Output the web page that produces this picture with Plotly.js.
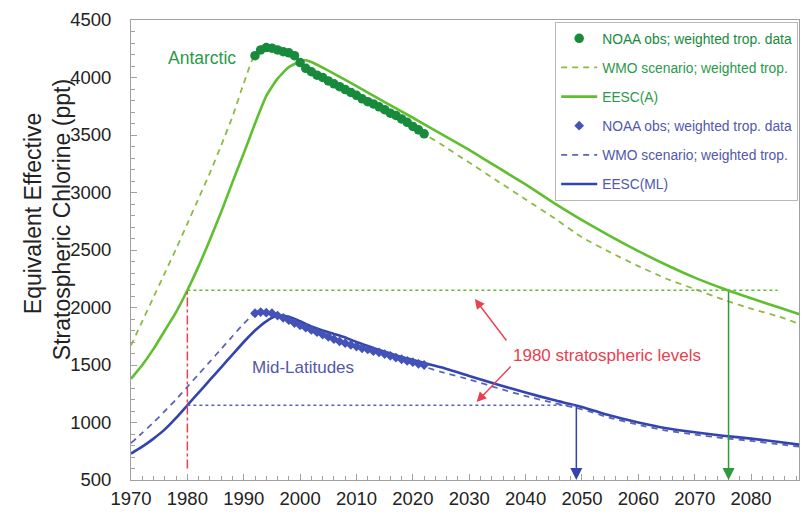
<!DOCTYPE html>
<html>
<head>
<meta charset="utf-8">
<script src="https://cdn.plot.ly/plotly-3.0.1.min.js"></script>
<style>html,body{margin:0;padding:0;background:#fff;}#chart{width:802px;height:516px;}</style>
</head>
<body>
<div id="chart"></div>
<script>
// ---------- data ----------
const eescA_years = [1970,1972,1974,1976,1978,1980,1982,1984,1986,1988,1990,1992,1994,1996,1998,2000,2001,2002,2005,2010,2015,2020,2025,2030,2035,2040,2045,2050,2055,2060,2065,2070,2075,2080,2085,2089];
const eescA_vals  = [1380,1500,1640,1800,1960,2150,2360,2590,2830,3090,3340,3600,3840,3990,4090,4140,4150,4135,4060,3925,3785,3650,3510,3370,3220,3070,2910,2760,2620,2490,2370,2260,2165,2080,2000,1935];

const wmoA_years = [1970,1972,1974,1976,1978,1980,1982,1984,1986,1988,1990,1992,1994,1996,1998,2000,2002,2004,2006,2008,2010,2012,2014,2016,2018,2020,2022,2025,2030,2035,2040,2045,2050,2055,2060,2065,2070,2075,2080,2085,2089];
const wmoA_vals  = [1670,1880,2090,2300,2510,2730,2950,3170,3410,3660,3950,4200,4250,4240,4210,4140,4060,4010,3950,3900,3850,3790,3740,3690,3640,3580,3510,3420,3260,3100,2940,2780,2610,2480,2360,2250,2160,2070,1990,1920,1850];

const obsA_years = [1992,1993,1994,1995,1996,1997,1998,1999,2000,2001,2002,2003,2004,2005,2006,2007,2008,2009,2010,2011,2012,2013,2014,2015,2016,2017,2018,2019,2020,2021,2022];
const obsA_vals  = [4190,4240,4260,4255,4240,4225,4215,4190,4130,4080,4050,4020,4000,3970,3945,3920,3895,3870,3845,3815,3790,3770,3745,3720,3690,3670,3640,3610,3575,3545,3510];

const eescML_years = [1970,1972,1974,1976,1978,1980,1982,1984,1986,1988,1990,1992,1994,1996,1998,2000,2002,2004,2006,2008,2010,2012,2014,2016,2018,2020,2025,2030,2035,2040,2045,2050,2055,2060,2065,2070,2075,2080,2085,2089];
const eescML_vals  = [730,790,860,940,1040,1150,1260,1370,1480,1590,1700,1800,1880,1930,1920,1880,1835,1800,1770,1740,1700,1665,1630,1600,1570,1545,1480,1405,1330,1260,1195,1135,1060,1000,950,915,885,860,830,805];

const wmoML_years = [1970,1972,1974,1976,1978,1980,1982,1984,1986,1988,1990,1992,1994,1996,1998,2000,2002,2004,2006,2008,2010,2012,2014,2016,2018,2020,2022,2025,2030,2035,2040,2045,2050,2055,2060,2065,2070,2075,2080,2085,2089];
const wmoML_vals  = [820,910,1000,1100,1200,1310,1420,1530,1640,1750,1860,1950,1960,1930,1890,1840,1800,1760,1720,1690,1660,1630,1600,1570,1540,1510,1485,1440,1375,1300,1230,1170,1115,1040,980,930,895,865,840,810,787];

const obsML_years = [1992,1993,1994,1995,1996,1997,1998,1999,2000,2001,2002,2003,2004,2005,2006,2007,2008,2009,2010,2011,2012,2013,2014,2015,2016,2017,2018,2019,2020,2021,2022];
const obsML_vals  = [1950,1960,1955,1950,1930,1910,1890,1865,1845,1825,1805,1785,1765,1745,1725,1705,1690,1675,1660,1645,1635,1620,1610,1595,1580,1565,1550,1535,1525,1510,1500];

// 1980 reference levels and return years
const refYear = 1980;
const level1980_A = 2150;
const level1980_ML = 1150;
const returnYear_A = 2076;
const returnYear_ML = 2049;
const levelLineEnd_A = 2084.7;
const levelLineEnd_ML = 2049;

const xTickVals = [1970,1980,1990,2000,2010,2020,2030,2040,2050,2060,2070,2080];
const yTickVals = [500,1000,1500,2000,2500,3000,3500,4000,4500];
const yTitleLines = ['Equivalent Effective', 'Stratospheric Chlorine (ppt)'];

const names = {
  obs: 'NOAA obs; weighted trop. data',
  wmo: 'WMO scenario; weighted trop.',
  eescA: 'EESC(A)',
  eescML: 'EESC(ML)'
};

// ---------- styles ----------
const C = {
  greenSolid: '#5fbf2f', greenDash: '#8cba45', greenObs: '#178a3c', greenText: '#2a9a4a',
  blueSolid: '#3343b0', blueDash: '#5c64b4', blueObs: '#4453b8', blueText: '#5258ab',
  red: '#e8404f', axis: '#a0a0a0'
};
const FONT = '"Liberation Sans", Arial, sans-serif';
const span = (c, t) => '<span style="color:' + c + '">' + t + '</span>';

const traces = [
  {x: wmoA_years, y: wmoA_vals, mode: 'lines', name: span(C.greenText, names.wmo), legendgroup: 'g2', legendrank: 2,
   line: {color: C.greenDash, width: 1.8, dash: '6px,5px', shape: 'spline', smoothing: 0.5}},
  {x: eescA_years, y: eescA_vals, mode: 'lines', name: span(C.greenText, names.eescA), legendgroup: 'g3', legendrank: 3,
   line: {color: C.greenSolid, width: 2.6, shape: 'spline', smoothing: 0.5}},
  {x: obsA_years, y: obsA_vals, mode: 'markers', name: span(C.greenObs, names.obs), legendgroup: 'g1', legendrank: 1,
   marker: {color: C.greenObs, size: 9.5, symbol: 'circle'}},
  {x: wmoML_years, y: wmoML_vals, mode: 'lines', name: span(C.blueText, names.wmo), legendgroup: 'g5', legendrank: 5,
   line: {color: C.blueDash, width: 1.8, dash: '6px,5px', shape: 'spline', smoothing: 0.5}},
  {x: eescML_years, y: eescML_vals, mode: 'lines', name: span(C.blueText, names.eescML), legendgroup: 'g6', legendrank: 6,
   line: {color: C.blueSolid, width: 2.6, shape: 'spline', smoothing: 0.5}},
  {x: obsML_years, y: obsML_vals, mode: 'markers', name: span(C.blueText, names.obs), legendgroup: 'g4', legendrank: 4,
   marker: {color: C.blueObs, size: 7.5, symbol: 'diamond'}}
];

const shapes = [
  {type: 'line', xref: 'x', yref: 'y', x0: refYear, x1: levelLineEnd_A, y0: level1980_A, y1: level1980_A,
   line: {color: C.greenSolid, width: 1.5, dash: 'dot'}},
  {type: 'line', xref: 'x', yref: 'y', x0: refYear, x1: levelLineEnd_ML, y0: level1980_ML, y1: level1980_ML,
   line: {color: C.blueDash, width: 1.5, dash: 'dot'}},
  {type: 'line', xref: 'x', yref: 'y', x0: refYear, x1: refYear, y0: 600, y1: level1980_A,
   line: {color: C.red, width: 1.5, dash: 'dashdot'}}
];

const annotations = [
  // y-axis title (two rotated lines)
  {xref: 'paper', yref: 'paper', x: -0.1467, y: 0.58, xanchor: 'center', yanchor: 'middle', textangle: -90,
   text: yTitleLines[0], showarrow: false, font: {family: FONT, size: 23, color: '#222'}},
  {xref: 'paper', yref: 'paper', x: -0.1033, y: 0.567, xanchor: 'center', yanchor: 'middle', textangle: -90,
   text: yTitleLines[1], showarrow: false, font: {family: FONT, size: 23, color: '#222'}},
  {x: 1982.6, y: 4170, xref: 'x', yref: 'y', text: 'Antarctic', showarrow: false, font: {family: FONT, size: 17.5, color: C.greenText}},
  {x: 2000.5, y: 1474, xref: 'x', yref: 'y', text: 'Mid-Latitudes', showarrow: false, font: {family: FONT, size: 17, color: C.blueText}},
  {x: 2054.4, y: 1587, xref: 'x', yref: 'y', text: '1980 stratospheric levels', showarrow: false, font: {family: FONT, size: 17, color: C.red}},
  // red pointer arrows
  {x: 2031.0, y: 2074, ax: 2036.8, ay: 1700, xref: 'x', yref: 'y', axref: 'x', ayref: 'y', text: '', showarrow: true,
   arrowhead: 2, arrowsize: 1.4, arrowwidth: 1.4, arrowcolor: C.red, standoff: 0, startstandoff: 0},
  {x: 2031.3, y: 1178, ax: 2037.6, ay: 1500, xref: 'x', yref: 'y', axref: 'x', ayref: 'y', text: '', showarrow: true,
   arrowhead: 2, arrowsize: 1.4, arrowwidth: 1.4, arrowcolor: C.red, standoff: 0, startstandoff: 0},
  // return-year arrows
  {x: returnYear_A, y: 500, ax: returnYear_A, ay: level1980_A, xref: 'x', yref: 'y', axref: 'x', ayref: 'y', text: '', showarrow: true,
   arrowhead: 2, arrowsize: 1.6, arrowwidth: 1.5, arrowcolor: '#2e9a3e', standoff: 0, startstandoff: 0},
  {x: returnYear_ML, y: 500, ax: returnYear_ML, ay: level1980_ML, xref: 'x', yref: 'y', axref: 'x', ayref: 'y', text: '', showarrow: true,
   arrowhead: 2, arrowsize: 1.6, arrowwidth: 1.5, arrowcolor: C.blueSolid, standoff: 0, startstandoff: 0}
];

const layout = {
  width: 802, height: 516,
  margin: {l: 131, r: 3, t: 20, b: 36, pad: 0},
  paper_bgcolor: '#ffffff', plot_bgcolor: '#ffffff',
  font: {family: FONT, color: '#222'},
  showlegend: true,
  legend: {
    x: 0.635, y: 0.996, xanchor: 'left', yanchor: 'top',
    bgcolor: '#ffffff', bordercolor: '#b8b8b8', borderwidth: 1,
    font: {family: FONT, size: 13.8},
    tracegroupgap: 8.2, traceorder: 'grouped', itemwidth: 36
  },
  xaxis: {
    range: [1970, 2088.5], tickvals: xTickVals, ticktext: xTickVals.map(String),
    showgrid: false, zeroline: false, showline: true, linecolor: C.axis, linewidth: 1, mirror: true,
    ticks: 'inside', ticklen: 6, tickcolor: C.axis, tickfont: {family: FONT, size: 18.5, color: '#222'},
    ticklabelstandoff: 2,
    minor: {dtick: 2, ticks: 'inside', ticklen: 4, tickcolor: C.axis, showgrid: false}
  },
  yaxis: {
    range: [500, 4500], tickvals: yTickVals, ticktext: yTickVals.map(String),
    showgrid: false, zeroline: false, showline: true, linecolor: C.axis, linewidth: 1, mirror: true,
    ticks: 'inside', ticklen: 6, tickcolor: C.axis, tickfont: {family: FONT, size: 18.5, color: '#222'},
    ticklabelstandoff: 15,
    minor: {dtick: 100, ticks: 'inside', ticklen: 4, tickcolor: C.axis, showgrid: false}
  },
  shapes: shapes,
  annotations: annotations
};

Plotly.newPlot('chart', traces, layout, {displayModeBar: false, staticPlot: true});
</script>
</body>
</html>
